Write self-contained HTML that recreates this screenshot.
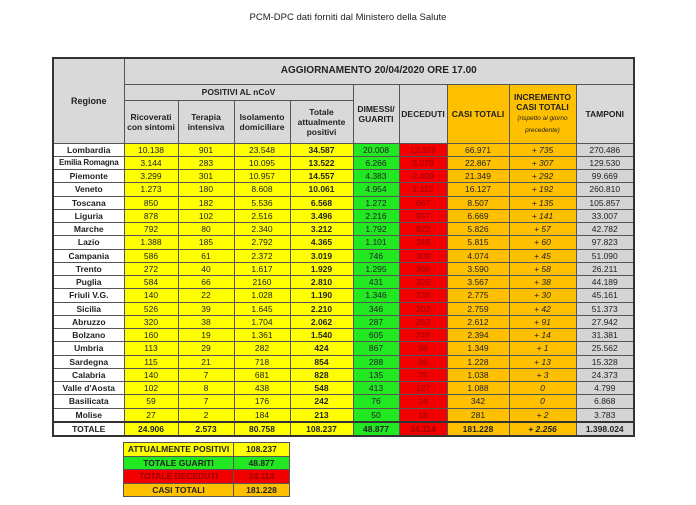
<!DOCTYPE html>
<html><head><style>
body{margin:0;background:#fff;width:696px;height:505px;position:relative;font-family:"Liberation Sans",sans-serif;overflow:hidden}
.t{position:absolute;top:12px;left:0;width:696px;text-align:center;font-size:9.5px;color:#222}
table{border-collapse:collapse;table-layout:fixed;position:absolute;font-size:8.5px;color:#222}
td{border:1px solid #555;text-align:center;padding:0;line-height:10px;overflow:hidden;white-space:nowrap}
.h{background:#d9d9d9;font-weight:bold;white-space:normal}
.y{background:#ffff00}.g{background:#22e822}.r{background:#f20000;color:#9a0000}.o{background:#ffc000}.s{background:#d4d4d4}
.w{background:#fff}
.b{font-weight:bold}.i{font-style:italic}
#m{left:52px;top:57px;border:2px solid #333}
#m tr.d td{height:12.25px}
#s{left:123px;top:442px;border:1.5px solid #333;font-weight:bold;font-size:8.5px}
#s td{height:12.6px}
</style></head><body>
<div class="t">PCM-DPC dati forniti dal Ministero della Salute</div>
<table id="m">
<colgroup><col style="width:71px"><col style="width:54px"><col style="width:56px"><col style="width:56px"><col style="width:63px"><col style="width:46px"><col style="width:48px"><col style="width:62px"><col style="width:67px"><col style="width:58px"></colgroup>
<tr style="height:26px"><td class="h" rowspan="3" style="font-size:9px">Regione</td><td class="h" colspan="9" style="font-size:10px">AGGIORNAMENTO 20/04/2020 ORE 17.00</td></tr>
<tr style="height:16px"><td class="h" colspan="4">POSITIVI AL nCoV</td><td class="h" rowspan="2">DIMESSI/<br>GUARITI</td><td class="h" rowspan="2">DECEDUTI</td><td class="h o" rowspan="2">CASI TOTALI</td><td class="h o" rowspan="2">INCREMENTO<br>CASI TOTALI<br><span style="font-weight:normal;font-style:italic;font-size:6.5px">(rispetto al giorno<br>precedente)</span></td><td class="h" rowspan="2">TAMPONI</td></tr>
<tr style="height:43px"><td class="h">Ricoverati<br>con sintomi</td><td class="h">Terapia<br>intensiva</td><td class="h">Isolamento<br>domiciliare</td><td class="h">Totale<br>attualmente<br>positivi</td></tr>
<tr class="d"><td class="w b">Lombardia</td><td class="y">10.138</td><td class="y">901</td><td class="y">23.548</td><td class="y b">34.587</td><td class="g">20.008</td><td class="r">12.376</td><td class="o">66.971</td><td class="o i">+ 735</td><td class="s">270.486</td></tr>
<tr class="d"><td class="w b" style="font-size:8px;letter-spacing:-0.2px">Emilia Romagna</td><td class="y">3.144</td><td class="y">283</td><td class="y">10.095</td><td class="y b">13.522</td><td class="g">6.266</td><td class="r">3.079</td><td class="o">22.867</td><td class="o i">+ 307</td><td class="s">129.530</td></tr>
<tr class="d"><td class="w b">Piemonte</td><td class="y">3.299</td><td class="y">301</td><td class="y">10.957</td><td class="y b">14.557</td><td class="g">4.383</td><td class="r">2.409</td><td class="o">21.349</td><td class="o i">+ 292</td><td class="s">99.669</td></tr>
<tr class="d"><td class="w b">Veneto</td><td class="y">1.273</td><td class="y">180</td><td class="y">8.608</td><td class="y b">10.061</td><td class="g">4.954</td><td class="r">1.112</td><td class="o">16.127</td><td class="o i">+ 192</td><td class="s">260.810</td></tr>
<tr class="d"><td class="w b">Toscana</td><td class="y">850</td><td class="y">182</td><td class="y">5.536</td><td class="y b">6.568</td><td class="g">1.272</td><td class="r">667</td><td class="o">8.507</td><td class="o i">+ 135</td><td class="s">105.857</td></tr>
<tr class="d"><td class="w b">Liguria</td><td class="y">878</td><td class="y">102</td><td class="y">2.516</td><td class="y b">3.496</td><td class="g">2.216</td><td class="r">957</td><td class="o">6.669</td><td class="o i">+ 141</td><td class="s">33.007</td></tr>
<tr class="d"><td class="w b">Marche</td><td class="y">792</td><td class="y">80</td><td class="y">2.340</td><td class="y b">3.212</td><td class="g">1.792</td><td class="r">822</td><td class="o">5.826</td><td class="o i">+ 57</td><td class="s">42.782</td></tr>
<tr class="d"><td class="w b">Lazio</td><td class="y">1.388</td><td class="y">185</td><td class="y">2.792</td><td class="y b">4.365</td><td class="g">1.101</td><td class="r">349</td><td class="o">5.815</td><td class="o i">+ 60</td><td class="s">97.823</td></tr>
<tr class="d"><td class="w b">Campania</td><td class="y">586</td><td class="y">61</td><td class="y">2.372</td><td class="y b">3.019</td><td class="g">746</td><td class="r">309</td><td class="o">4.074</td><td class="o i">+ 45</td><td class="s">51.090</td></tr>
<tr class="d"><td class="w b">Trento</td><td class="y">272</td><td class="y">40</td><td class="y">1.617</td><td class="y b">1.929</td><td class="g">1.295</td><td class="r">366</td><td class="o">3.590</td><td class="o i">+ 58</td><td class="s">26.211</td></tr>
<tr class="d"><td class="w b">Puglia</td><td class="y">584</td><td class="y">66</td><td class="y">2160</td><td class="y b">2.810</td><td class="g">431</td><td class="r">326</td><td class="o">3.567</td><td class="o i">+ 38</td><td class="s">44.189</td></tr>
<tr class="d"><td class="w b">Friuli V.G.</td><td class="y">140</td><td class="y">22</td><td class="y">1.028</td><td class="y b">1.190</td><td class="g">1.346</td><td class="r">239</td><td class="o">2.775</td><td class="o i">+ 30</td><td class="s">45.161</td></tr>
<tr class="d"><td class="w b">Sicilia</td><td class="y">526</td><td class="y">39</td><td class="y">1.645</td><td class="y b">2.210</td><td class="g">346</td><td class="r">203</td><td class="o">2.759</td><td class="o i">+ 42</td><td class="s">51.373</td></tr>
<tr class="d"><td class="w b">Abruzzo</td><td class="y">320</td><td class="y">38</td><td class="y">1.704</td><td class="y b">2.062</td><td class="g">287</td><td class="r">263</td><td class="o">2.612</td><td class="o i">+ 91</td><td class="s">27.942</td></tr>
<tr class="d"><td class="w b">Bolzano</td><td class="y">160</td><td class="y">19</td><td class="y">1.361</td><td class="y b">1.540</td><td class="g">605</td><td class="r">249</td><td class="o">2.394</td><td class="o i">+ 14</td><td class="s">31.381</td></tr>
<tr class="d"><td class="w b">Umbria</td><td class="y">113</td><td class="y">29</td><td class="y">282</td><td class="y b">424</td><td class="g">867</td><td class="r">58</td><td class="o">1.349</td><td class="o i">+ 1</td><td class="s">25.562</td></tr>
<tr class="d"><td class="w b">Sardegna</td><td class="y">115</td><td class="y">21</td><td class="y">718</td><td class="y b">854</td><td class="g">288</td><td class="r">86</td><td class="o">1.228</td><td class="o i">+ 13</td><td class="s">15.328</td></tr>
<tr class="d"><td class="w b">Calabria</td><td class="y">140</td><td class="y">7</td><td class="y">681</td><td class="y b">828</td><td class="g">135</td><td class="r">75</td><td class="o">1.038</td><td class="o i">+ 3</td><td class="s">24.373</td></tr>
<tr class="d"><td class="w b">Valle d'Aosta</td><td class="y">102</td><td class="y">8</td><td class="y">438</td><td class="y b">548</td><td class="g">413</td><td class="r">127</td><td class="o">1.088</td><td class="o i">0</td><td class="s">4.799</td></tr>
<tr class="d"><td class="w b">Basilicata</td><td class="y">59</td><td class="y">7</td><td class="y">176</td><td class="y b">242</td><td class="g">76</td><td class="r">24</td><td class="o">342</td><td class="o i">0</td><td class="s">6.868</td></tr>
<tr class="d"><td class="w b">Molise</td><td class="y">27</td><td class="y">2</td><td class="y">184</td><td class="y b">213</td><td class="g">50</td><td class="r">18</td><td class="o">281</td><td class="o i">+ 2</td><td class="s">3.783</td></tr>
<tr class="d" style="border-top:2px solid #333"><td class="w b">TOTALE</td><td class="y b">24.906</td><td class="y b">2.573</td><td class="y b">80.758</td><td class="y b">108.237</td><td class="g b">48.877</td><td class="r b">24.114</td><td class="o b">181.228</td><td class="o i b">+ 2.256</td><td class="s b">1.398.024</td></tr>
</table>
<table id="s">
<colgroup><col style="width:110px"><col style="width:56px"></colgroup>
<tr><td class="y">ATTUALMENTE POSITIVI</td><td class="y">108.237</td></tr>
<tr><td class="g">TOTALE GUARITI</td><td class="g">48.877</td></tr>
<tr><td class="r">TOTALE DECEDUTI</td><td class="r">24.114</td></tr>
<tr><td class="o">CASI TOTALI</td><td class="o">181.228</td></tr>
</table>
</body></html>
